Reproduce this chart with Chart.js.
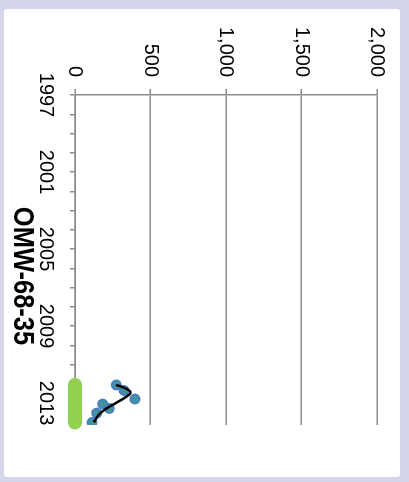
<!DOCTYPE html>
<html>
<head>
<meta charset="utf-8">
<script src="https://cdn.jsdelivr.net/npm/chart.js@4.4.0/dist/chart.umd.min.js"></script>
<style>
    html, body { margin: 0; padding: 0; }
    body { width: 409px; height: 482px; background: #d5d5eb; position: relative; overflow: hidden; }
    .panel { position: absolute; left: 4px; top: 9px; width: 396px; height: 468px; background: #fff; border-radius: 3px; }
    /* the chart is drawn upright, then turned a quarter clockwise */
    .wrap { position: absolute; left: 0; top: 0; width: 482px; height: 409px;
            transform-origin: 0 0; transform: translate(409px, 0) rotate(90deg); }
</style>
</head>
<body>
<div class="panel"></div>
<div class="wrap"><canvas id="chart" width="482" height="409"></canvas></div>
<script>
// Measured values (year, value)
const sampleYears  = [2012.06, 2012.35, 2012.79, 2013.05, 2013.28, 2013.52, 2014.01];
const sampleValues = [274, 325, 397, 183, 227, 144, 113];

// Smoothed trend line
const trendYears  = [2012.06, 2012.25, 2012.45, 2012.7, 2013.0, 2013.3, 2013.6, 2014.0];
const trendValues = [272, 338, 368, 335, 270, 205, 158, 125];

// Green span along the year axis
const spanYears  = [2012.06, 2014.01];
const spanValues = [0, 0];

const yearLabels = [1997, 2001, 2005, 2009, 2013];
const siteName = 'OMW-68-35';

const toPoints = (xs, ys) => xs.map((x, i) => ({ x: x, y: ys[i] }));

Chart.defaults.font.family = '"Liberation Sans", Arial, sans-serif';
Chart.defaults.color = '#000';

// site name under the year axis, a bit right of centre like the original
// (squeezed sideways, the original font is a narrow one)
const siteTitle = {
    id: 'siteTitle',
    afterDraw(chart) {
        const ctx = chart.ctx;
        const area = chart.chartArea;
        ctx.save();
        ctx.translate((area.left + area.right) / 2 + 16, area.bottom + 53);
        ctx.scale(0.85, 1);
        ctx.font = 'bold 30px "Liberation Sans", Arial, sans-serif';
        ctx.fillStyle = '#000';
        ctx.textAlign = 'center';
        ctx.textBaseline = 'middle';
        ctx.fillText(siteName, 0, 0);
        ctx.restore();
    }
};

new Chart(document.getElementById('chart'), {
    type: 'scatter',
    data: {
        datasets: [
            {
                label: 'trend',
                data: toPoints(trendYears, trendValues),
                showLine: true,
                tension: 0.4,
                borderColor: '#000',
                borderWidth: 2.5,
                pointRadius: 0,
                order: 1
            },
            {
                label: 'samples',
                data: toPoints(sampleYears, sampleValues),
                backgroundColor: '#42929f',
                borderColor: '#4a80c0',
                borderWidth: 2,
                pointRadius: 4.5,
                order: 2
            },
            {
                label: 'span',
                data: toPoints(spanYears, spanValues),
                showLine: true,
                borderColor: '#92d050',
                borderWidth: 14,
                borderCapStyle: 'round',
                pointRadius: 0,
                clip: false,
                order: 3
            }
        ]
    },
    options: {
        responsive: false,
        animation: false,
        locale: 'en-US',
        layout: { padding: { top: 32, right: 57, left: 0, bottom: 0 } },
        plugins: { legend: { display: false }, tooltip: { enabled: false } },
        scales: {
            x: {
                type: 'linear',
                min: 1997,
                max: 2014.14,
                afterFit: scale => { scale.height = 75; },
                ticks: {
                    stepSize: 1,
                    autoSkip: false,
                    maxRotation: 0,
                    padding: 12,
                    font: { size: 20 },
                    callback: v => yearLabels.includes(v) ? String(v) : ''
                },
                grid: { drawOnChartArea: false, tickLength: 5, color: '#8c8c8c', lineWidth: 1.5 },
                border: { color: '#8c8c8c', width: 1.5 }
            },
            y: {
                min: 0,
                max: 2000,
                afterFit: scale => { scale.width = 95; },
                ticks: { stepSize: 500, padding: 12, font: { size: 20 } },
                grid: { color: '#8c8c8c', lineWidth: 1.5, tickLength: 6 },
                border: { color: '#8c8c8c', width: 1.5 }
            }
        }
    },
    plugins: [siteTitle]
});
</script>
</body>
</html>
